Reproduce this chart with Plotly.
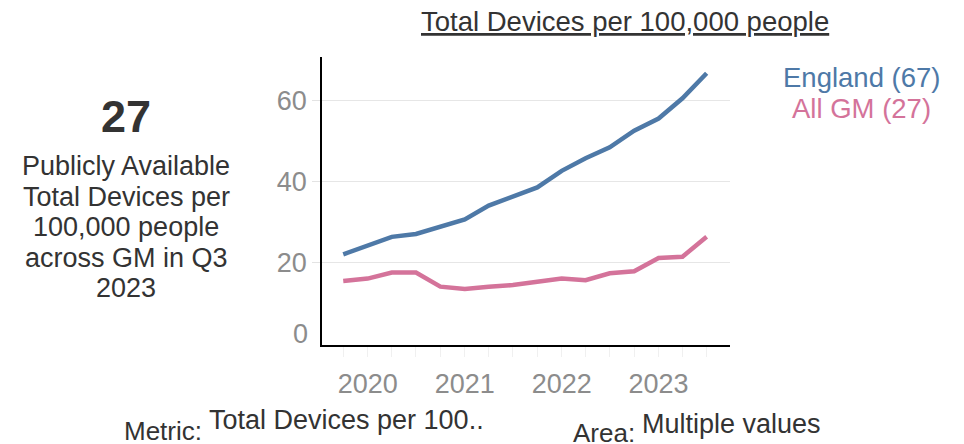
import plotly.graph_objects as go

# ---- data ----
quarters = ["2019-10-01", "2020-01-01", "2020-04-01", "2020-07-01", "2020-10-01",
            "2021-01-01", "2021-04-01", "2021-07-01", "2021-10-01",
            "2022-01-01", "2022-04-01", "2022-07-01", "2022-10-01",
            "2023-01-01", "2023-04-01", "2023-07-01"]
england = [22.1, 24.4, 26.4, 27.1, 28.9, 30.7, 34.1, 36.3, 38.6, 42.7, 45.8, 48.5, 52.6, 55.6, 60.6, 66.8]
all_gm = [15.5, 16.1, 17.6, 17.6, 14.1, 13.5, 14.1, 14.5, 15.3, 16.1, 15.7, 17.4, 17.9, 21.2, 21.5, 26.4]
y_tick_vals = [20, 40, 60]
series_names = ["England", "All GM"]
latest_labels = ["England (67)", "All GM (27)"]
kpi_value = "27"
kpi_lines = ["Publicly Available", "Total Devices per", "100,000 people", "across GM in Q3", "2023"]
chart_title = "Total Devices per 100,000 people"

# ---- style ----
OFF = 8                      # page body margin offset
W, H = 964 - OFF, 444 - OFF
PL, PR, PT, PB = 322, 730, 57, 345   # plot box in window pixels
ML, MT = PL - OFF, PT - OFF
MR, MB = W - (PR - OFF), H - (PB - OFF)
PW, PH = PR - PL, PB - PT
FONT = "Liberation Sans, Arial, sans-serif"
BLUE = "#4e79a7"
PINK = "#d4739a"
DARK = "#333333"
GREY = "#8c8c8c"


def px_x(x):
    return (x - PL) / PW


def px_y(y):
    return 1 - (y - PT) / PH


x_ticktext = [q[:4] if q[5:7] == "01" else "" for q in quarters]

fig = go.Figure()
fig.add_trace(go.Scatter(x=quarters, y=england, mode="lines", name=series_names[0],
                         line=dict(color=BLUE, width=4.5)))
fig.add_trace(go.Scatter(x=quarters, y=all_gm, mode="lines", name=series_names[1],
                         line=dict(color=PINK, width=4.5)))

fig.update_layout(
    width=W, height=H,
    margin=dict(l=ML, r=MR, t=MT, b=MB, pad=0),
    paper_bgcolor="white", plot_bgcolor="white",
    showlegend=False,
    font=dict(family=FONT, size=27, color=DARK),
    xaxis=dict(
        type="date", range=["2019-07-13", "2023-09-27"],
        tickmode="array", tickvals=quarters, ticktext=x_ticktext,
        ticks="outside", ticklen=10, tickcolor="#f0f0f0", tickwidth=1,
        tickfont=dict(family=FONT, size=27, color=GREY),
        showgrid=False, zeroline=False,
        showline=True, linecolor="black", linewidth=1.5,
        ticklabelstandoff=4,
    ),
    yaxis=dict(
        range=[-0.3, 70.8],
        tickmode="array", tickvals=y_tick_vals, ticktext=[str(v) for v in y_tick_vals],
        ticks="outside", ticklen=8, tickcolor="#e3e3e3", tickwidth=1,
        tickfont=dict(family=FONT, size=27, color=GREY),
        showgrid=True, gridcolor="#e6e6e6", gridwidth=1,
        zeroline=False,
        showline=True, linecolor="black", linewidth=1.5,
    ),
)

ann = []
# zero label (lifted like the reference)
ann.append(dict(x=0, y=0, xref="paper", yref="y", text="0", showarrow=False,
                xanchor="right", yanchor="middle", xshift=-12, yshift=10,
                font=dict(family=FONT, size=27, color=GREY)))
# title
ann.append(dict(x=px_x(625), y=px_y(21), xref="paper", yref="paper", text=chart_title,
                showarrow=False, xanchor="center", yanchor="middle",
                font=dict(family=FONT, size=27.5, color=DARK, lineposition="under")))
# legend labels
for i, (lab, col) in enumerate(zip(latest_labels, [BLUE, PINK])):
    ann.append(dict(x=px_x(861), y=px_y(78 + 30 * i), xref="paper", yref="paper", text=lab,
                    showarrow=False, xanchor="center", yanchor="middle",
                    font=dict(family=FONT, size=27.5, color=col)))
# KPI
ann.append(dict(x=px_x(126), y=px_y(116), xref="paper", yref="paper", text="<b>" + kpi_value + "</b>",
                showarrow=False, xanchor="center", yanchor="middle",
                font=dict(family=FONT, size=45, color=DARK)))
for i, line in enumerate(kpi_lines):
    ann.append(dict(x=px_x(126), y=px_y(166 + 30.5 * i), xref="paper", yref="paper", text=line,
                    showarrow=False, xanchor="center", yanchor="middle",
                    font=dict(family=FONT, size=27, color=DARK)))
# filters
ann.append(dict(x=px_x(122), y=px_y(431), xref="paper", yref="paper", text="Metric:",
                showarrow=False, xanchor="left", yanchor="middle",
                font=dict(family=FONT, size=26, color=DARK)))
ann.append(dict(x=px_x(207), y=px_y(420), xref="paper", yref="paper", text="Total Devices per 100..",
                showarrow=False, xanchor="left", yanchor="middle",
                font=dict(family=FONT, size=27, color=DARK)))
ann.append(dict(x=px_x(571), y=px_y(433), xref="paper", yref="paper", text="Area:",
                showarrow=False, xanchor="left", yanchor="middle",
                font=dict(family=FONT, size=26, color=DARK)))
ann.append(dict(x=px_x(640), y=px_y(424), xref="paper", yref="paper", text="Multiple values",
                showarrow=False, xanchor="left", yanchor="middle",
                font=dict(family=FONT, size=27, color=DARK)))

fig.update_layout(annotations=ann)
fig.write_html("out.html")
